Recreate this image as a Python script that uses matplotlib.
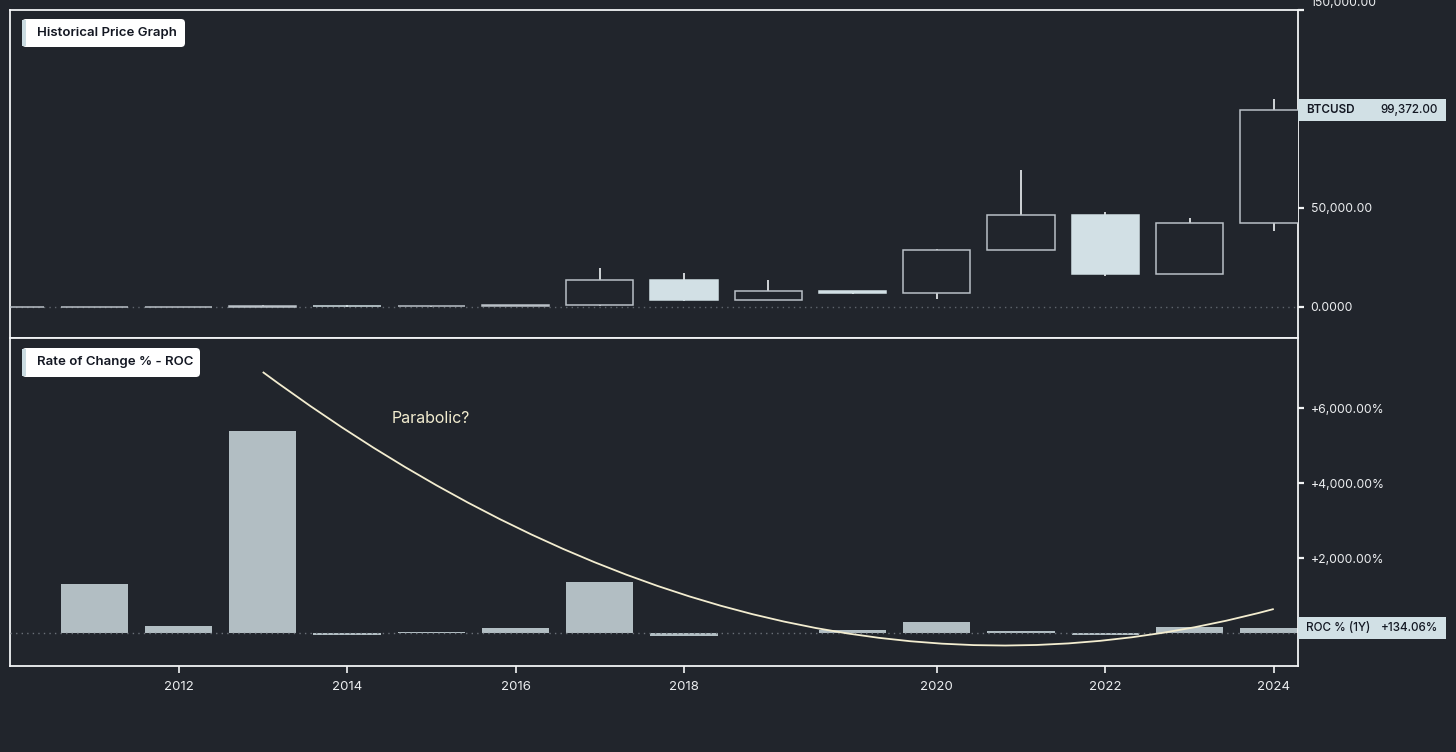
import matplotlib.pyplot as plt
import matplotlib.transforms as mtransforms
from matplotlib.patches import FancyBboxPatch, PathPatch, Rectangle
from matplotlib.path import Path
from matplotlib.ticker import FuncFormatter

plt.rcParams["font.family"] = ["Inter", "DejaVu Sans"]

BG = "#21252c"
FRAME = "#f2f4f5"
TEXT = "#eceef0"
DARK = "#131722"
LABEL_BG = "#d1e0e5"
CANDLE_FILL = "#d2e0e5"
CANDLE_EDGE = "#b9c0c6"
BAR_COLOR = "#b2bec3"
CURVE_COLOR = "#f3edd0"

W, H = 1456, 752

# one slot per yearly candle (slot 10 is an extra short candle in the source)
slots = list(range(16))
opens = [0.05, 0.30, 4.7, 13.5, 732, 320, 430, 963, 13880, 3740, 7900, 7200, 29000, 46300, 16550, 42300]
highs = [0.39, 32, 16, 1163, 1000, 495, 980, 19700, 17250, 13880, 8000, 29300, 69000, 48200, 44700, 104900]
lows = [0.01, 0.29, 3.8, 13.3, 200, 152, 350, 750, 3150, 3400, 6500, 3850, 28800, 15500, 16500, 38500]
closes = [0.30, 4.7, 13.5, 732, 320, 430, 963, 13880, 3740, 7900, 7200, 29000, 46300, 16550, 42300, 99372]

# 1Y rate of change, %
roc = [0, 1310, 187, 5400, -56, 34, 124, 1360, -73, 0, 92, 303, 60, -64, 155, 134.06]

year_ticks = [2, 4, 6, 8, 11, 13, 15]
year_labels = ["2012", "2014", "2016", "2018", "2020", "2022", "2024"]

price_ticks = [0, 50000, 150000]
roc_ticks = [2000, 4000, 6000]

last_price = 99372.00
last_roc = 134.06

# hand-drawn "parabola" (quadratic bezier: start, control, end)
curve_x = [3.0, 9.0, 15.0]
curve_y = [6960, -3000, 640]


def px_box(x0, y0, x1, y1):
    """Figure-pixel box (top-left origin) -> display coords."""
    return x0, H - y1, x1 - x0, y1 - y0


def price_fmt(v, _):
    return "0.0000" if v == 0 else f"{v:,.2f}"


def roc_fmt(v, _):
    return f"+{v:,.2f}%"


fig = plt.figure(figsize=(W / 100, H / 100), dpi=100)
fig.patch.set_facecolor(BG)

ax_p = fig.add_axes([10 / W, 1 - 338 / H, 1288 / W, 328 / H])
ax_r = fig.add_axes([10 / W, 1 - 666 / H, 1288 / W, 328 / H], sharex=ax_p)

for ax in (ax_p, ax_r):
    ax.set_facecolor(BG)
    for sp in ax.spines.values():
        sp.set_color(FRAME)
        sp.set_linewidth(1.3)
    ax.yaxis.tick_right()
    ax.tick_params(axis="y", colors=FRAME, labelcolor=TEXT, labelsize=8.8,
                   length=4, width=1.6, pad=5)

ax_p.set_xlim(0, 1288 / 84.25)
ax_p.set_ylim(-15657, 150000)
ax_r.set_ylim(-880, 7867)

# candles
for i, o, h, l, c in zip(slots, opens, highs, lows, closes):
    ax_p.vlines(i, l, h, color="#eef2f4", lw=1.2, zorder=2)
    bearish = c < o
    ax_p.bar(i, c - o, bottom=o, width=0.8,
             facecolor=CANDLE_FILL if bearish else BG,
             edgecolor=CANDLE_FILL if bearish else CANDLE_EDGE,
             linewidth=1.1, zorder=3)
ax_p.axhline(0, color="#5f656d", lw=1, ls=(0, (1, 3)), zorder=1)
ax_p.set_yticks(price_ticks)
ax_p.yaxis.set_major_formatter(FuncFormatter(price_fmt))
ax_p.tick_params(axis="x", bottom=False, labelbottom=False)
# top label is cut off by the screenshot edge
top_tick = ax_p.yaxis.get_major_ticks()[-1]
top_tick.label2.set_transform(top_tick.label2.get_transform()
                              + mtransforms.ScaledTranslation(0, 9 / 100, fig.dpi_scale_trans))

# ROC histogram
ax_r.bar(slots, roc, width=0.8, color=BAR_COLOR, zorder=2)
ax_r.axhline(0, color="#6a7078", lw=1, ls=(0, (1, 3)), zorder=3)
ax_r.set_yticks(roc_ticks)
ax_r.yaxis.set_major_formatter(FuncFormatter(roc_fmt))
ax_r.set_xticks(year_ticks)
ax_r.set_xticklabels(year_labels)
ax_r.tick_params(axis="x", colors=FRAME, labelcolor=TEXT, labelsize=9.5,
                 length=5, width=1.2, pad=6)

curve = Path(list(zip(curve_x, curve_y)), [Path.MOVETO, Path.CURVE3, Path.CURVE3])
ax_r.add_patch(PathPatch(curve, fill=False, edgecolor=CURVE_COLOR, lw=1.3, zorder=4))
ax_r.text(5.0, 5730, "Parabolic?", color=CURVE_COLOR, fontsize=11.5,
          ha="center", va="center")

# last value labels on the right scale
for ax, val, name, txt, hgt in (
    (ax_p, last_price, "BTCUSD", f"{last_price:,.2f}", 11111),
    (ax_r, last_roc, "ROC % (1Y)", f"+{last_roc:.2f}%", 587),
):
    tr = mtransforms.blended_transform_factory(ax.transAxes, ax.transData)
    ax.add_patch(Rectangle((1.0, val - hgt / 2), 148 / 1288, hgt, transform=tr,
                           facecolor=LABEL_BG, edgecolor="none", clip_on=False, zorder=5))
    ax.text(1.0 + 8 / 1288, val, name, transform=tr, color=DARK, fontsize=8.4,
            weight="semibold" if ax is ax_p else "medium", va="center", ha="left",
            zorder=6, clip_on=False)
    ax.text(1.0 + 140 / 1288, val, txt, transform=tr, color=DARK, fontsize=8.4,
            weight="medium", va="center", ha="right", zorder=6, clip_on=False)

# pane titles
ident = mtransforms.IdentityTransform()
for (x0, y0, x1, y1), title in (((22, 19, 185, 47), "Historical Price Graph"),
                                ((22, 348, 200, 377), "Rate of Change % - ROC")):
    bx, by, bw, bh = px_box(x0, y0, x1, y1)
    fig.add_artist(FancyBboxPatch((bx, by), bw, bh, boxstyle="round,pad=0,rounding_size=4",
                                  transform=ident, facecolor="white", edgecolor="none"))
    sx, sy, sw, sh = px_box(x0, y0 + 1, x0 + 4, y1 - 1)
    fig.add_artist(Rectangle((sx, sy), sw, sh, transform=ident,
                             facecolor="#cbdce2", edgecolor="none"))
    fig.text(37 / W, 1 - (y0 + y1) / 2 / H, title, color=DARK, fontsize=9.5,
             weight="semibold", va="center", ha="left")

fig.savefig("out.png", dpi=100, facecolor=BG)
plt.close()
